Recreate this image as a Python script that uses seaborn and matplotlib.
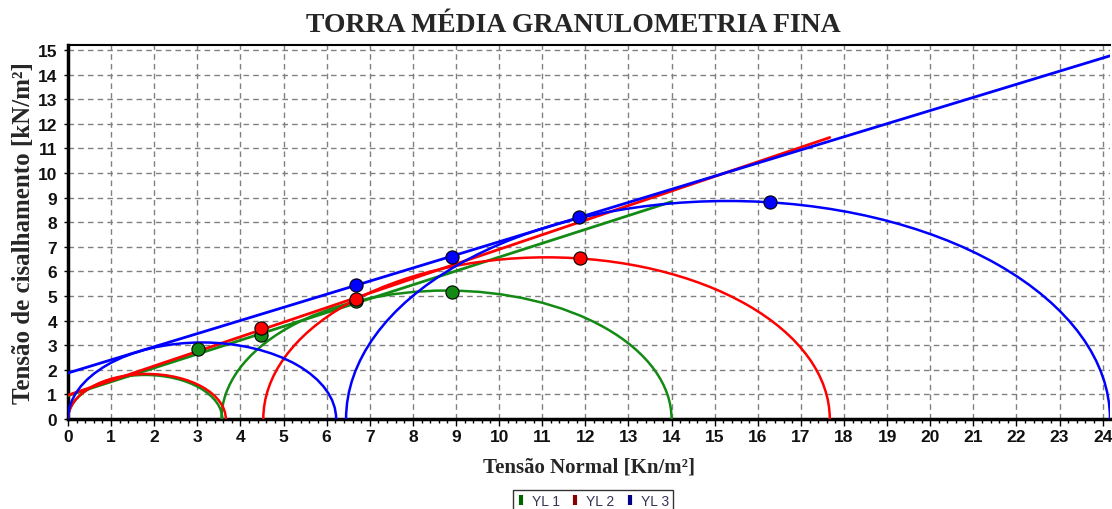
import numpy as np
import pandas as pd
import matplotlib
matplotlib.use("Agg")
import matplotlib.pyplot as plt
import seaborn as sns
from matplotlib.patches import Arc
from matplotlib.lines import Line2D
from matplotlib.ticker import MultipleLocator

# ---------------- data ----------------
series = ["YL 1", "YL 2", "YL 3"]
line_colors = ["#138a13", "#ff0000", "#0000ff"]
legend_colors = ["#006400", "#8b0000", "#00008b"]

# Mohr circles (centre, radius)
yl1_centers = [1.79, 8.78]
yl1_radii = [1.79, 5.22]
yl2_centers = [1.83, 11.10]
yl2_radii = [1.83, 6.57]
yl3_centers = [3.11, 15.31]
yl3_radii = [3.11, 8.86]

# failure envelopes (start / end)
yl1_env_x = [0.0, 14.0]
yl1_env_y = [0.95, 8.83]
yl2_env_x = [0.0, 17.67]
yl2_env_y = [0.97, 11.44]
yl3_env_x = [0.0, 24.17]
yl3_env_y = [1.87, 14.76]

# points
yl1_pts_x = [3.01, 4.47, 6.69, 8.90]
yl1_pts_y = [2.84, 3.41, 4.80, 5.17]
yl2_pts_x = [4.47, 6.69, 11.87]
yl2_pts_y = [3.70, 4.87, 6.55]
yl3_pts_x = [6.67, 8.90, 11.85, 16.28]
yl3_pts_y = [5.44, 6.58, 8.20, 8.80]

x_ticks = list(range(0, 25))
y_ticks = list(range(0, 16))

# ---------------- plot ----------------
sns.set_theme(style="white")
plt.rcParams["font.family"] = ["Liberation Sans", "DejaVu Sans"]

fig = plt.figure(figsize=(11.12, 5.10), dpi=100)
ax = fig.add_axes([68 / 1112, 1 - 420 / 510, (1110 - 68) / 1112, (420 - 46) / 510])

centers = [yl1_centers, yl2_centers, yl3_centers]
radii = [yl1_radii, yl2_radii, yl3_radii]
env_x = [yl1_env_x, yl2_env_x, yl3_env_x]
env_y = [yl1_env_y, yl2_env_y, yl3_env_y]
pts_x = [yl1_pts_x, yl2_pts_x, yl3_pts_x]
pts_y = [yl1_pts_y, yl2_pts_y, yl3_pts_y]

for i, name in enumerate(series):
    col = line_colors[i]
    for c, r in zip(centers[i], radii[i]):
        ax.add_patch(Arc((c, 0), 2 * r, 2 * r, theta1=0, theta2=180,
                         color=col, lw=1.8, zorder=3 + i))
    env = pd.DataFrame({"x": env_x[i], "y": env_y[i]})
    sns.lineplot(data=env, x="x", y="y", color=col, lw=2.0, ax=ax,
                 zorder=3 + i, legend=False)
    pts = pd.DataFrame({"x": pts_x[i], "y": pts_y[i]})
    sns.scatterplot(data=pts, x="x", y="y", color=col, s=90,
                    edgecolor="black", linewidth=0.8, ax=ax, zorder=6 + i,
                    legend=False)

ax.set_xlim(0, 24.17)
ax.set_ylim(0, 15.2)
ax.set_xticks(x_ticks)
ax.set_yticks(y_ticks)
ax.xaxis.set_minor_locator(MultipleLocator(0.2))
ax.grid(True, which="major", color="#808080", linestyle=(0, (4, 3)), lw=1.0)
ax.set_axisbelow(True)

for lab in ax.get_xticklabels() + ax.get_yticklabels():
    lab.set_fontweight("bold")
    lab.set_fontsize(12.5)
    lab.set_color("#111111")
ax.tick_params(axis="x", which="major", direction="out", length=5, width=1,
               color="black", pad=2, bottom=True)
ax.tick_params(axis="x", which="minor", direction="out", length=3, width=1,
               color="black", bottom=True)
ax.tick_params(axis="y", which="major", direction="out", length=3, width=1,
               color="black", pad=5, left=True)

for s in ["left", "bottom"]:
    ax.spines[s].set_linewidth(2.5)
    ax.spines[s].set_color("black")
ax.spines["top"].set_linewidth(1.5)
ax.spines["top"].set_color("black")
ax.spines["right"].set_visible(False)

ax.set_xlabel("Tensão Normal [Kn/m²]", fontfamily="Liberation Serif",
              fontweight="bold", fontsize=15, labelpad=9)
ax.set_ylabel("Tensão de cisalhamento [kN/m²]", fontfamily="Liberation Serif",
              fontweight="bold", fontsize=18, labelpad=2)
fig.text(573 / 1112, 1 - 25 / 510, "TORRA MÉDIA GRANULOMETRIA FINA",
         fontfamily="Liberation Serif", fontweight="bold", fontsize=20,
         ha="center", va="center")

handles = [Line2D([0], [0], marker="|", linestyle="none", color=c,
                  markersize=7, markeredgewidth=3) for c in legend_colors]
leg = fig.legend(handles, series, loc="upper center",
                 bbox_to_anchor=(593 / 1112, 1 - 484 / 510), ncol=3,
                 frameon=True, fancybox=False, edgecolor="black",
                 fontsize=10, handlelength=0.6, handletextpad=0.5,
                 columnspacing=0.8, borderpad=0.3)
leg.get_frame().set_linewidth(1.0)
for t in leg.get_texts():
    t.set_color("#333355")

fig.savefig("out.png", dpi=100)
